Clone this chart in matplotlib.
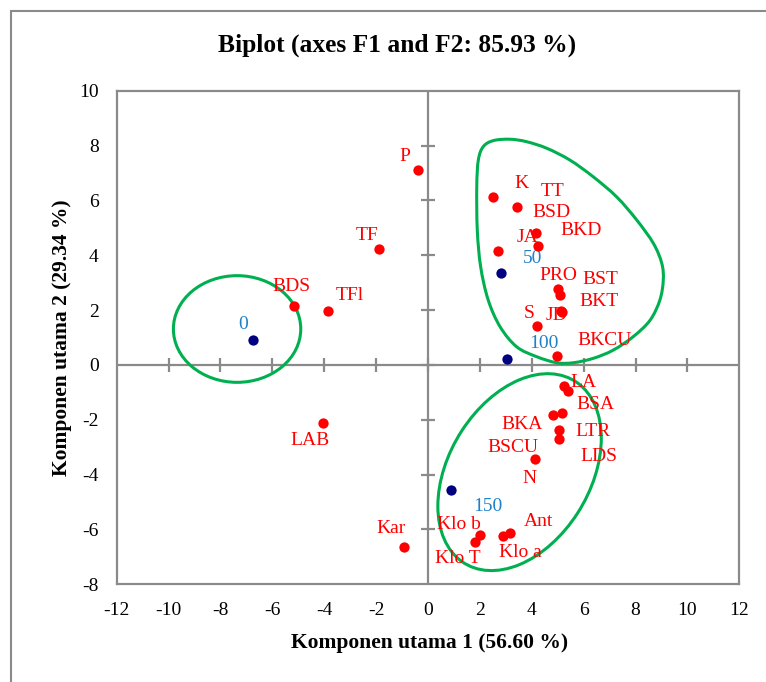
import matplotlib.pyplot as plt
import numpy as np
from matplotlib.patches import Ellipse, Rectangle, PathPatch, Circle
from matplotlib.path import Path
from matplotlib.transforms import Affine2D

plt.rcParams['font.family'] = ['Liberation Serif', 'DejaVu Serif']
plt.rcParams['axes.unicode_minus'] = False

# variables (red points)
var_names = ["P", "TF", "BDS", "TFl", "LAB", "Kar",
             "K", "TT", "BSD", "BKD", "JA", "PRO", "BST", "BKT", "JD", "S", "BKCU",
             "LA", "BSA", "BKA", "BSCU", "LTR", "LDS", "N", "Ant", "Klo a", "Klo b", "Klo T"]
var_x = [-0.39, -1.89, -5.17, -3.86, -4.05, -0.93,
         2.49, 3.44, 4.18, 4.24, 2.69, 5.02, 5.10, 5.15, 5.12, 4.19, 4.97,
         5.25, 5.41, 4.81, 5.18, 5.04, 5.04, 4.11, 3.16, 2.90, 1.99, 1.81]
var_y = [7.11, 4.23, 2.15, 1.97, -2.12, -6.64,
         6.11, 5.76, 4.82, 4.35, 4.15, 2.76, 2.55, 1.92, 1.95, 1.42, 0.34,
         -0.77, -0.94, -1.82, -1.75, -2.37, -2.70, -3.42, -6.14, -6.23, -6.19, -6.47]

# observations (blue points)
obs_names = ["0", "50", "100", "150"]
obs_x = [-6.75, 2.81, 3.03, 0.88]
obs_y = [0.92, 3.36, 0.23, -4.56]

# label offsets in pixels (dx, dy) from each point
var_off = {"P": (-13, 13), "TF": (-12, 13), "BDS": (-2, 19), "TFl": (22, 15),
           "LAB": (-13, -17), "Kar": (-13, 19), "K": (29, 14), "TT": (35, 15),
           "BSD": (15, 20), "BKD": (43, 15), "JA": (30, 14), "PRO": (0, 14),
           "BST": (40, 15), "BKT": (37, 11), "JD": (-4, -4), "S": (-8, 12),
           "BKCU": (48, 15), "LA": (19, 4), "BSA": (27, -14), "BKA": (-31, -10),
           "BSCU": (-49, -35), "LTR": (34, -2), "LDS": (40, -18), "N": (-5, -20),
           "Ant": (29, 12), "Klo a": (17, -17), "Klo b": (-21, 10), "Klo T": (-17, -16)}
obs_off = {"0": (-10, 15), "50": (32, 14), "100": (37, 15), "150": (37, -17)}

# outline around the upper group (data coords)
blob_x = [2.13, 2.52, 3.16, 3.80, 4.58, 5.47, 6.37, 7.27, 8.05, 8.69, 9.01, 9.07, 8.94,
          8.56, 7.91, 7.14, 6.37, 5.60, 4.96, 4.19, 3.42, 2.78, 2.32, 2.03, 1.90, 1.88, 1.94]
blob_y = [7.96, 8.18, 8.23, 8.14, 7.90, 7.47, 6.86, 6.13, 5.28, 4.43, 3.71, 3.10, 2.37,
          1.63, 1.03, 0.54, 0.24, 0.08, 0.08, 0.30, 0.66, 1.39, 2.37, 3.58, 4.92, 6.50, 7.47]

gray = '#8a8a8a'
green = '#00B050'

fig = plt.figure(figsize=(7.66, 6.82), dpi=100)
ax = fig.add_axes([116.7 / 766, 1 - 584.3 / 682, 622.6 / 766, 493.6 / 682])

ax.set_xlim(-12, 12)
ax.set_ylim(-8, 10)
xt = np.arange(-12, 13, 2)
yt = np.arange(-8, 11, 2)
ax.set_xticks(xt)
ax.set_yticks(yt)
ax.tick_params(length=0, labelsize=14, pad=13)
for s in ax.spines.values():
    s.set_color(gray)
    s.set_linewidth(1.6)

# axes through the origin with crossing ticks
ax.axhline(0, color=gray, lw=1.6, zorder=1)
ax.axvline(0, color=gray, lw=1.6, zorder=1)
ax.plot(xt[1:-1], np.zeros(len(xt) - 2), ls='none', marker='|', ms=10, mew=1.6, color=gray, zorder=1)
ax.plot(np.zeros(len(yt) - 2), yt[1:-1], ls='none', marker='_', ms=10, mew=1.6, color=gray, zorder=1)

# green outlines
ax.add_patch(Ellipse((-7.36, 1.31), 4.91, 3.89, fill=False, ec=green, lw=2.2, zorder=2))
low = Circle((0, 0), 1, fill=False, ec=green, lw=2.2, zorder=2)
low.set_transform(Affine2D(np.array([[3.15, 0.0, 3.53], [1.238, 3.37, -3.91], [0, 0, 1]])) + ax.transData)
ax.add_patch(low)

pts = np.column_stack([blob_x, blob_y])
n = len(pts)
verts = [pts[0]]
codes = [Path.MOVETO]
for i in range(n):
    p0, p1, p2, p3 = pts[i - 1], pts[i], pts[(i + 1) % n], pts[(i + 2) % n]
    verts += [p1 + (p2 - p0) / 6, p2 - (p3 - p1) / 6, p2]
    codes += [Path.CURVE4] * 3
ax.add_patch(PathPatch(Path(verts, codes), fill=False, ec=green, lw=2.2, zorder=2))

# points and labels
ax.scatter(var_x, var_y, s=55, color='#FF0000', zorder=4, linewidths=0)
ax.scatter(obs_x, obs_y, s=55, color='#000080', zorder=4, linewidths=0)
for name, x, y in zip(var_names, var_x, var_y):
    dx, dy = var_off[name]
    ax.annotate(name, (x, y), xytext=(dx * 0.72, dy * 0.72), textcoords='offset points',
                ha='center', va='center', color='#FF0000', fontsize=14, zorder=3)
for name, x, y in zip(obs_names, obs_x, obs_y):
    dx, dy = obs_off[name]
    ax.annotate(name, (x, y), xytext=(dx * 0.72, dy * 0.72), textcoords='offset points',
                ha='center', va='center', color='#2080C8', fontsize=14, zorder=3)

# titles
fig.text(430 / 766, 1 - 643 / 682, 'Komponen utama 1 (56.60 %)', ha='center', va='center',
         fontsize=15.5, fontweight='bold')
fig.text(62 / 766, 1 - 338 / 682, 'Komponen utama 2 (29.34 %)', ha='center', va='center',
         rotation=90, fontsize=15.5, fontweight='bold')
fig.text(397 / 766, 1 - 45 / 682, 'Biplot (axes F1 and F2: 85.93 %)', ha='center', va='center',
         fontsize=18.4, fontweight='bold')

# chart frame
fig.add_artist(Rectangle((11 / 766, -1), 2, 2 - 11 / 682, transform=fig.transFigure,
                         fill=False, ec=gray, lw=1.5))

fig.savefig('out.png', dpi=100)
